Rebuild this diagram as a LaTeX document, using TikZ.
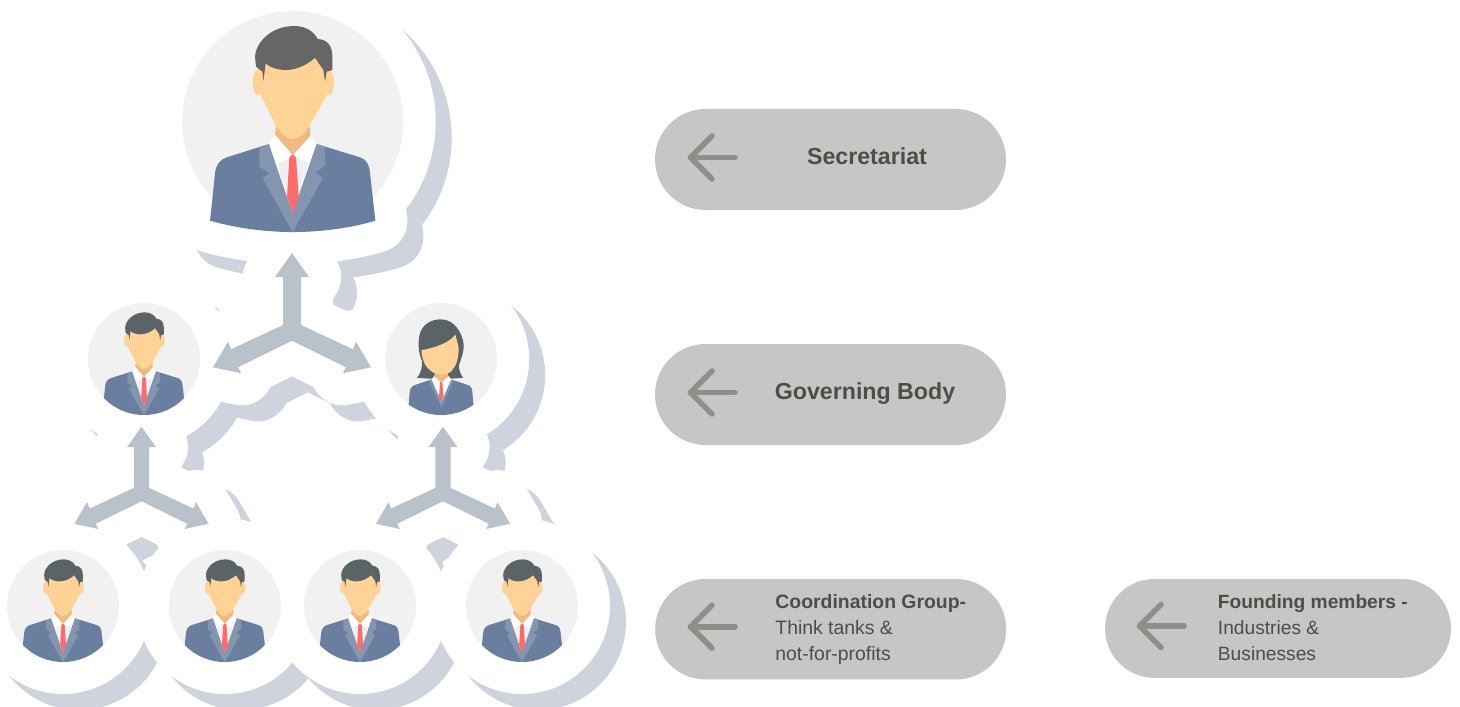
\documentclass[tikz,border=0pt]{standalone}
\usepackage{fontspec}
\setmainfont{Liberation Sans}
\usetikzlibrary{shapes.misc}
\definecolor{shadowc}{HTML}{CED3DD}
\definecolor{ringc}{HTML}{F1F1F2}
\definecolor{skinc}{HTML}{FFD296}
\definecolor{neckc}{HTML}{F0B97D}
\definecolor{suitc}{HTML}{6A7F9F}
\definecolor{lapelc}{HTML}{8496AF}
\definecolor{shadec}{HTML}{EDF0F2}
\definecolor{tiec}{HTML}{FF6B6B}
\definecolor{hairbig}{HTML}{666666}
\definecolor{hairsmall}{HTML}{5A6365}
\definecolor{linkc}{HTML}{B9C2CA}
\definecolor{pillc}{HTML}{C6C6C6}
\definecolor{pillarrow}{HTML}{8C9187}
\definecolor{labelc}{HTML}{4A5044}
\tikzset{
  pillbox/.style={rounded rectangle,fill=pillc,draw=none,inner sep=0pt},
  pillmark/.style={draw=pillarrow,line width=2.8pt,line cap=round,line join=round},
  biglabel/.style={anchor=center,text=labelc,font=\fontsize{11.6}{14}\selectfont\bfseries,inner sep=0pt},
  smalllabel/.style={anchor=west,align=left,text=labelc,font=\fontsize{9.7}{13}\selectfont,inner sep=0pt},
}
\def\suitpath{(120,662) -- (135,520) .. controls (137,495) and (150,478) .. (170,472) -- (297,432) -- (440,432) -- (570,472) .. controls (590,478) and (598,495) .. (600,520) -- (616,662) .. controls (540,685) and (450,696) .. (368,696) .. controls (290,696) and (200,685) .. (120,662) -- cycle}
\def\linkpath{(0,0) -- (17,24) -- (9,24) -- (9,72) -- (61,96.3) -- (64,88.7) -- (79,114.3) -- (50.7,120.3) -- (54,114.3) -- (0,87.7) -- (-54,114.3) -- (-50.7,120.3) -- (-79,114.3) -- (-64,88.7) -- (-61,96.3) -- (-9,72) -- (-9,24) -- (-17,24) -- cycle}
\newcommand{\manfigure}[1]{%
  \fill[suitc] \suitpath;
  \fill[white] (295,433) -- (315,403) -- (420,408) -- (440,432) -- (368,640) -- cycle;
  \fill[shadec] (322,490) -- (358,474) -- (378,474) -- (415,487) -- (385,590) -- (368,640) -- (350,590) -- cycle;
  \fill[lapelc] (297,432) -- (268,445) -- (268,500) -- (297,518) -- (278,535) -- (368,696) -- (458,535) -- (437,517) -- (465,497) -- (465,440) -- (440,432) -- (385,590) -- (368,640) -- (350,590) -- cycle;
  \fill[neckc] (318,380) -- (420,380) -- (420,408) -- (368,465) -- (315,403) -- cycle;
  \fill[tiec] (358,472) -- (368,463) -- (378,472) -- (386,590) -- (368,640) -- (351,590) -- cycle;
  \fill[skinc] (263,248) ellipse [x radius=15,y radius=38];
  \fill[skinc] (477,248) ellipse [x radius=15,y radius=38];
  \fill[skinc] (262,150) -- (262,250) -- (272,285) -- (317,375) .. controls (330,398) and (345,416) .. (368,417) .. controls (392,416) and (407,398) .. (420,375) -- (470,285) -- (478,250) -- (478,150) -- cycle;
  \fill[#1] (255,170) .. controls (258,125) and (305,78) .. (372,78) .. controls (405,78) and (430,92) .. (443,117) .. controls (470,118) and (487,135) .. (487,170) -- (487,210) -- (470,215) -- (465,245) -- (460,210) -- (450,195) -- (435,173) .. controls (410,195) and (380,210) .. (345,210) .. controls (325,210) and (300,203) .. (287,190) -- (280,243) -- (277,215) -- (258,200) -- cycle;
}
\newcommand{\smallman}[2]{%
  \begin{scope}[shift={(#1,#2)}]
    \fill[ringc] (0,0) circle [radius=56];
    \clip (0,0) circle [radius=56];
    \begin{scope}[yshift=-0.6pt,scale=0.5/3,shift={(-368,-365)}]
      \manfigure{hairsmall}
    \end{scope}
  \end{scope}}
\newcommand{\smallwoman}[2]{%
  \begin{scope}[shift={(#1,#2)}]
    \fill[ringc] (0,0) circle [radius=56];
    \clip (0,0) circle [radius=56];
    \begin{scope}[scale=1/3,shift={(-169.5,-168.5)}]
      \fill[hairsmall] (97,225) .. controls (108,212) and (113,195) .. (112,175) .. controls (100,150) and (98,110) .. (108,85) .. controls (120,60) and (145,48) .. (172,50) .. controls (205,50) and (232,85) .. (237,125) .. controls (238,150) and (228,170) .. (222,190) .. controls (224,205) and (228,215) .. (235,225) -- (192,228) -- (145,228) -- cycle;
      \fill[suitc] (72,305) -- (75,268) .. controls (76,252) and (85,248) .. (95,245) -- (140,230) -- (200,230) -- (245,245) .. controls (258,248) and (262,255) .. (263,268) -- (266,305) -- (266,345) -- (72,345) -- cycle;
      \fill[white] (140,230) -- (150,218) -- (190,218) -- (200,230) -- (170,298) -- cycle;
      \fill[lapelc] (133,233) -- (140,230) -- (170,298) -- (200,230) -- (207,233) -- (170,314) -- cycle;
      \fill[neckc] (150,205) -- (190,205) -- (190,222) -- (170,238) -- (150,222) -- cycle;
      \fill[tiec] (166,238) -- (173,238) -- (176,280) -- (169,298) -- (163,280) -- cycle;
      \fill[skinc] (110,142) .. controls (112,170) and (120,192) .. (140,205) .. controls (155,218) and (185,218) .. (200,205) .. controls (215,190) and (222,165) .. (222,135) -- (212,95) .. controls (195,120) and (150,135) .. (110,142) -- cycle;
    \end{scope}
  \end{scope}}
\newcommand{\blobshapes}{%
  \path[fill,draw,line width=32pt,line join=round]
    (292.7,121.7) circle [radius=111];
  \begin{scope}[shift={(292.7,121.7)},scale=1/3,shift={(-368,-365)}]
    \path[fill,draw,line width=32pt,line join=round] \suitpath;
  \end{scope}
  \foreach \px/\py in {144/359,441.2/359,63/606,224.8/606,360/606,522/606}
    \path[fill,draw,line width=32pt] (\px,\py) circle [radius=56];
  \begin{scope}[shift={(292,253)}]
    \path[fill,draw,line width=32pt,line join=round] \linkpath;
  \end{scope}
  \begin{scope}[shift={(141.5,426.7)},scale=0.85]
    \path[fill,draw,line width=32pt,line join=round] \linkpath;
  \end{scope}
  \begin{scope}[shift={(443,426.7)},scale=0.85]
    \path[fill,draw,line width=32pt,line join=round] \linkpath;
  \end{scope}}
\begin{document}
\begin{tikzpicture}[x=0.5pt,y=-0.5pt]
  \useasboundingbox (0,0) rectangle (1460,706);
  \clip (0,0) rectangle (1460,706);
  \fill[white] (0,0) rectangle (1460,706);
  \begin{scope}[shift={(16,16)},color=shadowc]
    \blobshapes
  \end{scope}
  \begin{scope}[color=white]
    \blobshapes
  \end{scope}
  \begin{scope}[shift={(292,253)}]
    \fill[linkc] \linkpath;
  \end{scope}
  \begin{scope}[shift={(141.5,426.7)},scale=0.85]
    \fill[linkc] \linkpath;
  \end{scope}
  \begin{scope}[shift={(443,426.7)},scale=0.85]
    \fill[linkc] \linkpath;
  \end{scope}
  \begin{scope}[shift={(292.7,121.7)}]
    \fill[ringc] (0,0) circle [radius=110.5];
    \begin{scope}[scale=1/3,shift={(-368,-365)}]
      \manfigure{hairbig}
    \end{scope}
  \end{scope}
  \smallman{144}{359}
  \smallwoman{441.2}{359}
  \smallman{63}{606}
  \smallman{224.8}{606}
  \smallman{360}{606}
  \smallman{522}{606}
  \node[pillbox,minimum width=175.5pt,minimum height=50.5pt] (pillA) at (830.5,159.5) {};
  \node[pillbox,minimum width=175.5pt,minimum height=50.5pt] (pillB) at (830.5,394.5) {};
  \node[pillbox,minimum width=175.5pt,minimum height=50.2pt] (pillC) at (830.7,629.2) {};
  \node[pillbox,minimum width=173pt,minimum height=49.4pt] (pillD) at (1278,628.4) {};
  \foreach \ax/\ay in {690.5/157.5,690.5/392.5,690.5/626.7,1139.5/626}{
    \draw[pillmark] (\ax+44.5,\ay) -- (\ax,\ay);
    \draw[pillmark] (\ax+21.5,\ay-21.5) -- (\ax,\ay) -- (\ax+21.5,\ay+21.5);
  }
  \node[biglabel] (labelA) at (867,156) {Secretariat};
  \node[biglabel] (labelB) at (865,393.5) {Governing Body};
  \node[smalllabel] (labelC) at (775,629.2) {\textbf{Coordination Group-}\\Think tanks \&\\not-for-profits};
  \node[smalllabel,font=\fontsize{9.6}{13}\selectfont] (labelD) at (1217.5,627.3) {\textbf{Founding members -}\\Industries \&\\Businesses};
\end{tikzpicture}
\end{document}
